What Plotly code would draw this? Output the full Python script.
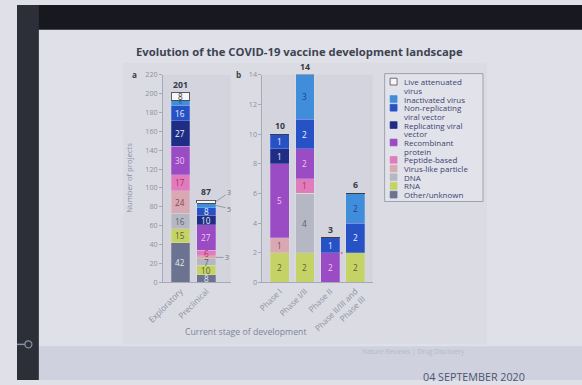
import plotly.graph_objects as go

W, H = 582, 385

# ---------------- data ----------------
stages_a = ["Exploratory", "Preclinical"]
stages_b = ["Phase I", "Phase I/II", "Phase II", "Phase II/III and<br>Phase III"]

# values per stage: [Exploratory, Preclinical, Phase I, Phase I/II, Phase II, Phase II/III and III]
other_unknown = [42, 8, 0, 0, 0, 0]
rna = [15, 10, 2, 2, 0, 2]
dna = [16, 7, 0, 4, 0, 0]
virus_like_particle = [24, 3, 1, 0, 0, 0]
peptide_based = [17, 6, 0, 1, 0, 0]
recombinant_protein = [30, 27, 5, 2, 2, 0]
replicating_viral_vector = [27, 10, 1, 0, 0, 0]
non_replicating_viral_vector = [16, 8, 1, 2, 1, 2]
inactivated_virus = [6, 5, 0, 3, 0, 2]
live_attenuated_virus = [8, 3, 0, 0, 0, 0]

# stacking order (bottom -> top)
series = [
    ("Other/unknown", other_unknown),
    ("RNA", rna),
    ("DNA", dna),
    ("Virus-like particle", virus_like_particle),
    ("Peptide-based", peptide_based),
    ("Recombinant protein", recombinant_protein),
    ("Replicating viral vector", replicating_viral_vector),
    ("Non-replicating viral vector", non_replicating_viral_vector),
    ("Inactivated virus", inactivated_virus),
    ("Live attenuated virus", live_attenuated_virus),
]

# legend text lines, top -> bottom
legend_lines = [
    ["Live attenuated", "virus"],
    ["Inactivated virus"],
    ["Non-replicating", "viral vector"],
    ["Replicating viral", "vector"],
    ["Recombinant", "protein"],
    ["Peptide-based"],
    ["Virus-like particle"],
    ["DNA"],
    ["RNA"],
    ["Other/unknown"],
]

ticks_a = list(range(0, 221, 20))
ticks_b = list(range(0, 15, 2))

# ---------------- styles ----------------
colors = {
    "Other/unknown": "#6c7390",
    "RNA": "#c5d266",
    "DNA": "#b5b8c2",
    "Virus-like particle": "#d9a9b3",
    "Peptide-based": "#e07cbc",
    "Recombinant protein": "#9a4cc4",
    "Replicating viral vector": "#1f2d84",
    "Non-replicating viral vector": "#2752c6",
    "Inactivated virus": "#3f8ddb",
    "Live attenuated virus": "#f6f6fa",
}
text_colors = {
    "Other/unknown": "#e4e7f2",
    "RNA": "#5b6132",
    "DNA": "#5a5e6c",
    "Virus-like particle": "#8a4650",
    "Peptide-based": "#b42e5e",
    "Recombinant protein": "#f6c6f0",
    "Replicating viral vector": "#f0f2ff",
    "Non-replicating viral vector": "#eef2ff",
    "Inactivated virus": "#22418c",
    "Live attenuated virus": "#333333",
}

FONT = "Open Sans"
GREY = "#8d91a3"
AXC = "#a6a9b6"

# the photographed page shows the figure slightly offset/scaled; compensate
OX, OY, SX, SY = 15.0, 5.3, 0.977, 0.975
FS = 1 / 0.976


def px(x):
    return ((x - OX) / SX) / W


def py(y):
    return 1 - ((y - OY) / SY) / H


def f(s):
    return round(s * FS, 2)


def note(x, y, text, size, color, **kw):
    d = dict(x=px(x), y=py(y), xref="paper", yref="paper", text=text, showarrow=False,
             xanchor="center", yanchor="middle", font=dict(family=FONT, size=f(size), color=color))
    d.update(kw)
    return d


fig = go.Figure()

BW_A, BW_B = 0.73, 0.75
for name, vals in series:
    line = dict(color="#3a3a3a", width=0.8) if name.startswith("Live") else dict(color="rgba(235,235,245,0.45)", width=0.5)
    fig.add_trace(go.Bar(x=stages_a, y=vals[:2], name=name, marker=dict(color=colors[name], line=line),
                         width=BW_A, xaxis="x", yaxis="y", showlegend=False, hoverinfo="skip"))
    fig.add_trace(go.Bar(x=stages_b, y=vals[2:], name=name, marker=dict(color=colors[name], line=line),
                         width=BW_B, xaxis="x2", yaxis="y2", showlegend=False, hoverinfo="skip"))

annotations = []
shapes = []

# segment labels + totals
outside = {(1, "Live attenuated virus"): (13, -9), (1, "Inactivated virus"): (13, 3), (1, "Virus-like particle"): (11, 0)}
n_stage = len(other_unknown)
for i in range(n_stage):
    xr, yr, xi = ("x", "y", i) if i < 2 else ("x2", "y2", i - 2)
    bw = BW_A if i < 2 else BW_B
    cum = 0
    for name, vals in series:
        v = vals[i]
        if v > 0:
            mid = cum + v / 2
            if (i, name) in outside:
                ax, ay = outside[(i, name)]
                annotations.append(dict(x=xi + bw / 2, y=mid, xref=xr, yref=yr, text=str(v), showarrow=True,
                                        arrowhead=0, arrowwidth=0.7, arrowcolor="#7a7e8e", ax=f(ax), ay=f(ay),
                                        standoff=0, xanchor="center", yanchor="middle",
                                        font=dict(family=FONT, size=f(7), color="#6f7384")))
            else:
                size = 8 if not (i == 0 and v < 7) else 5
                annotations.append(dict(x=xi, y=mid, xref=xr, yref=yr, text=str(v), showarrow=False,
                                        xanchor="center", yanchor="middle",
                                        font=dict(family=FONT, size=f(size), color=text_colors[name])))
        cum += v
    annotations.append(dict(x=xi, y=cum, xref=xr, yref=yr, text="<b>%d</b>" % cum, showarrow=False,
                            xanchor="center", yanchor="bottom", yshift=0,
                            font=dict(family=FONT, size=f(8.5), color="#363a45")))

# pink marker beside Phase II bar
annotations.append(dict(x=2 + BW_B / 2 + 0.06, y=2, xref="x2", yref="y2", text="•", showarrow=False,
                        xanchor="center", yanchor="middle",
                        font=dict(family=FONT, size=f(9), color="#ec6f95")))

# titles and texts
annotations += [
    note(299, 52, "<b>Evolution of the COVID-19 vaccine development landscape</b>", 11, "#3e4352"),
    note(133, 75, "<b>a</b>", 8, "#3a3e4a"),
    note(238, 75, "<b>b</b>", 8, "#3a3e4a"),
    note(127, 178, "Number of projects", 7.5, GREY, textangle=-90),
    note(245, 333, "Current stage of development", 8.5, "#7f849a"),
    note(414, 352, "Nature Reviews | Drug Discovery", 6.5, "#b5b9ca"),
    note(475, 377, "04 SEPTEMBER 2020", 10.5, "#4d5372"),
]


def rect(x0, x1, y0, y1, fill, line=None, layer="above"):
    return dict(type="rect", xref="paper", yref="paper", x0=x0, x1=x1, y0=y0, y1=y1,
                fillcolor=fill, line=line or dict(width=0), layer=layer)


# background shapes
shapes += [
    rect(px(122), px(488), py(345), py(63), "#dadbe3", layer="below"),
    rect(px(162), px(230), py(283), py(75), "#d3d4dd", layer="below"),
    rect(px(262), px(373), py(283), py(75), "#d3d4dd", layer="below"),
    rect(px(37), 1, 0, py(347), "#cfd1de", layer="below"),
    # dark photo border
    rect(0, 1, py(30), 1, "#18191e"),
    rect(0, px(37), 0, 1, "#2c2f38"),
    dict(type="line", xref="paper", yref="paper", x0=0, x1=px(25), y0=py(345), y1=py(345),
         line=dict(color="#8a90a2", width=1.5)),
    dict(type="circle", xref="paper", yref="paper", x0=px(23), x1=px(30), y0=py(348.5), y1=py(341.5),
         line=dict(color="#8a90a2", width=1.2), fillcolor="#2c2f38"),
    # legend box
    rect(px(385), px(484), py(202), py(74), "#e2e3ea", line=dict(color="#8d91a2", width=0.8), layer="below"),
]

# manual legend (top -> bottom = reverse stacking order)
legend_y0, line_h = 82, 8.7
row = 0
for (name, _), lines in zip(reversed(series), legend_lines):
    yc = legend_y0 + row * line_h
    edge = "#3a3a3a" if name.startswith("Live") else colors[name]
    shapes.append(rect(px(390.5), px(397.5), py(yc + 3.4), py(yc - 3.4), colors[name],
                       line=dict(color=edge, width=0.7)))
    for ln in lines:
        annotations.append(note(402, legend_y0 + row * line_h, ln, 7.8, "#3c4270", xanchor="left"))
        row += 1

axis_common = dict(showline=True, linecolor=AXC, linewidth=1, ticklen=3, tickcolor=AXC,
                   tickfont=dict(family=FONT, size=f(7), color=GREY), showgrid=False, zeroline=False)
xfont = dict(family=FONT, size=f(8), color=GREY)

fig.update_layout(
    width=W, height=H, autosize=False,
    margin=dict(l=0, r=0, t=0, b=0, pad=0),
    paper_bgcolor="#dfe0e8", plot_bgcolor="rgba(0,0,0,0)",
    barmode="stack", bargap=0.25,
    showlegend=False,
    xaxis=dict(domain=[px(162), px(230)], range=[-0.673, 1.942], anchor="y", tickangle=-45, ticks="",
               **{**axis_common, "tickfont": xfont}),
    yaxis=dict(domain=[py(283), py(75)], range=[0, 220], tickvals=ticks_a, anchor="x", ticks="outside",
               **axis_common),
    xaxis2=dict(domain=[px(262), px(373)], range=[-0.69, 3.69], anchor="y2", tickangle=-45, ticks="",
                **{**axis_common, "tickfont": xfont}),
    yaxis2=dict(domain=[py(283), py(75)], range=[0, 14], tickvals=ticks_b, anchor="x2", ticks="outside",
                **axis_common),
    annotations=annotations,
    shapes=shapes,
)

fig.write_html("out.html")
